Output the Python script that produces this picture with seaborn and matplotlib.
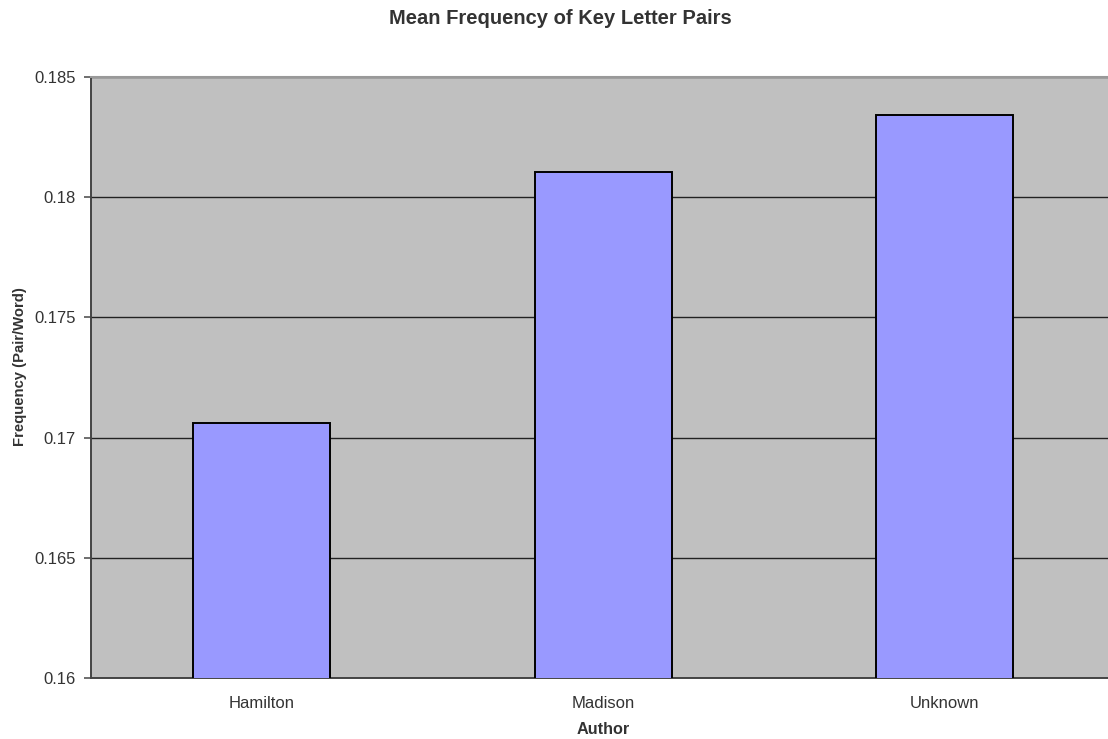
import matplotlib
matplotlib.use("Agg")
import matplotlib.pyplot as plt
import seaborn as sns
import pandas as pd

# Mean frequency of key letter pairs per author
authors = ["Hamilton", "Madison", "Unknown"]
frequency = [0.17060, 0.18105, 0.18341]
y_ticks = [0.16, 0.165, 0.17, 0.175, 0.18, 0.185]
y_tick_labels = ["0.16", "0.165", "0.17", "0.175", "0.18", "0.185"]

df = pd.DataFrame({"Author": authors, "Frequency": frequency})

sns.set_theme(style="white")
plt.rcParams["font.family"] = ["Liberation Sans", "DejaVu Sans"]

fig = plt.figure(figsize=(11.08, 7.39), dpi=100)
ax = fig.add_axes([91 / 1108, 1 - 678 / 739, 1024.5 / 1108, (678 - 77) / 739])
ax.set_facecolor("#C0C0C0")

sns.barplot(data=df, x="Author", y="Frequency", color="#9999FF", saturation=1,
            width=0.4, edgecolor="black", linewidth=1.4, ax=ax, zorder=3)

ax.set_xlim(-0.5, 2.5)
ax.set_ylim(0.16, 0.185)
ax.set_yticks(y_ticks)
ax.set_yticklabels(y_tick_labels)

# horizontal gridlines
ax.yaxis.grid(True, color="#222222", linewidth=1.0, zorder=1)
ax.xaxis.grid(False)
ax.set_axisbelow(True)

# category separator ticks on the x axis
ax.set_xticks([0.5, 1.5], minor=True)
ax.tick_params(axis="x", which="major", length=0, pad=13, labelsize=12, labelcolor="#333333")
ax.tick_params(axis="x", which="minor", length=5, width=1.2, color="#555555", direction="out")
ax.tick_params(axis="y", which="major", length=5, width=1.2, color="#555555", direction="out",
               labelsize=12, labelcolor="#333333", pad=6, left=True)

for side in ["left", "bottom"]:
    ax.spines[side].set_color("#444444")
    ax.spines[side].set_linewidth(1.4)
ax.spines["top"].set_color("#999999")
ax.spines["top"].set_linewidth(1.5)
ax.spines["right"].set_visible(False)

ax.set_xlabel("Author", fontsize=11.7, fontweight="bold", color="#333333")
ax.xaxis.set_label_coords(0.5, -(737 - 678) / 601)
ax.xaxis.label.set_va("bottom")
ax.set_ylabel("Frequency (Pair/Word)", fontsize=10.7, fontweight="bold", color="#333333")
ax.yaxis.set_label_coords(-0.0625, 0.5175)

fig.text(560.5 / 1108, 1 - 24.5 / 739, "Mean Frequency of Key Letter Pairs", ha="center",
         va="baseline", fontsize=14.5, fontweight="bold", color="#333333")

fig.savefig("out.png", dpi=100, facecolor="white")
